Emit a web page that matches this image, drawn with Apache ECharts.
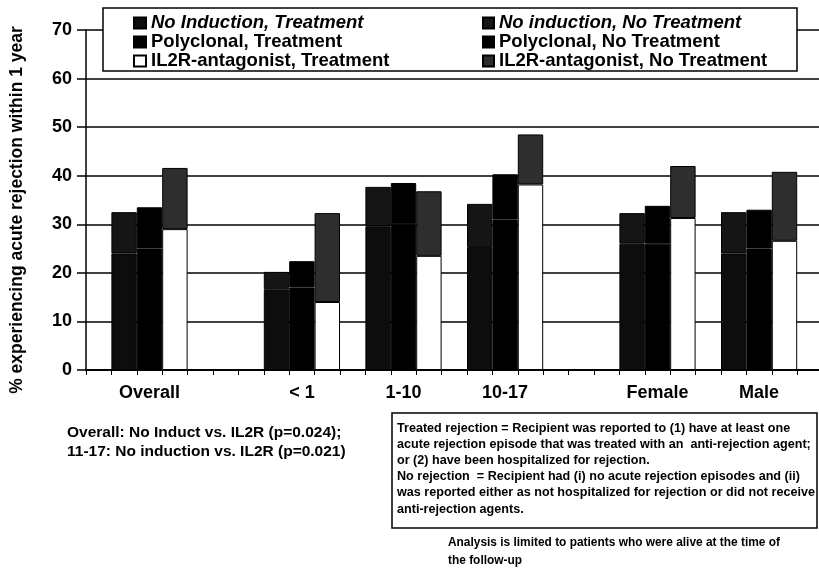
<!DOCTYPE html>
<html>
<head>
<meta charset="utf-8">
<script src="https://cdn.jsdelivr.net/npm/echarts@6/dist/echarts.min.js"></script>
<style>
  html, body { margin: 0; padding: 0; background: #fff; }
  #chart { width: 819px; height: 572px; }
</style>
</head>
<body>
<div id="chart"></div>
<script>
// categories and where each group of 3 bars starts on the slot axis
var categories = ['Overall', '< 1', '1-10', '10-17', 'Female', 'Male'];
var groupStart = [1, 7, 11, 15, 21, 25];
var slotCount = 29;

// % experiencing acute rejection within 1 year
var noIndTreat   = [24.0, 16.6, 29.6, 25.3, 26.0, 24.0];
var noIndNoTreat = [8.5, 3.6, 8.1, 8.9, 6.3, 8.5];
var polyTreat    = [25.0, 17.0, 30.0, 31.0, 26.0, 25.0];
var polyNoTreat  = [8.5, 5.4, 8.5, 9.3, 7.8, 8.0];
var il2rTreat    = [29.0, 14.0, 23.5, 38.2, 31.3, 26.6];
var il2rNoTreat  = [12.6, 18.3, 13.3, 10.3, 10.7, 14.2];

var yTicks = [0, 70, 10]; // min, max, interval

var noteLines = [
  'Treated rejection = Recipient was reported to (1) have at least one',
  'acute rejection episode that was treated with an  anti-rejection agent;',
  'or (2) have been hospitalized for rejection.',
  'No rejection  = Recipient had (i) no acute rejection episodes and (ii)',
  'was reported either as not hospitalized for rejection or did not receive',
  'anti-rejection agents.'
];
var footLines = [
  'Analysis is limited to patients who were alive at the time of',
  'the follow-up'
];

var chart = echarts.init(document.getElementById('chart'));

// x slots: label only under the middle bar of each group
var slotLabels = [];
for (var i = 0; i < slotCount; i++) slotLabels.push('');
groupStart.forEach(function (s, i) { slotLabels[s + 1] = categories[i]; });

function slotData(values, offset) {
  var arr = [];
  for (var i = 0; i < slotCount; i++) arr.push('-');
  groupStart.forEach(function (s, i) { arr[s + offset] = values[i]; });
  return arr;
}

function bar(name, values, offset, color) {
  return {
    name: name,
    type: 'bar',
    stack: 'all',
    barCategoryGap: '0%',
    data: slotData(values, offset),
    itemStyle: { color: color, borderColor: '#000', borderWidth: 1 },
    emphasis: { disabled: true }
  };
}

// the note text is a condensed face; squeeze a normal bold face to the same width
var noteFont = "bold 12.5px 'Liberation Sans', Arial, sans-serif";
var ctx = document.createElement('canvas').getContext('2d');
ctx.font = noteFont;
var noteScale = 418 / ctx.measureText(noteLines[4]).width;
var footScale = 332 / ctx.measureText(footLines[0]).width;

var baseFont = 'Liberation Sans, Arial, sans-serif';
var legendFont = { fontFamily: baseFont, fontWeight: 'bold', fontSize: 18.5, color: '#000', lineHeight: 19 };

var option = {
  animation: false,
  backgroundColor: '#fff',
  grid: { left: 86, top: 30, width: 736.6, height: 340, outerBoundsMode: 'none', containLabel: false },
  legend: [
    {
      orient: 'vertical', left: 133, top: 13.5, padding: 0, itemGap: 0,
      itemWidth: 12, itemHeight: 11, icon: 'rect', selectedMode: false,
      textStyle: legendFont,
      data: [
        { name: 'No Induction, Treatment', textStyle: { fontStyle: 'italic' } },
        'Polyclonal, Treatment',
        'IL2R-antagonist, Treatment'
      ]
    },
    {
      orient: 'vertical', left: 482, top: 13.5, padding: 0, itemGap: 0,
      itemWidth: 11, itemHeight: 11, icon: 'rect', selectedMode: false,
      textStyle: legendFont,
      data: [
        { name: 'No induction, No Treatment', textStyle: { fontStyle: 'italic' } },
        'Polyclonal, No Treatment',
        'IL2R-antagonist, No Treatment'
      ]
    }
  ],
  xAxis: {
    type: 'category',
    data: slotLabels,
    boundaryGap: true,
    axisLine: { lineStyle: { color: '#000', width: 2 } },
    axisTick: { show: true, interval: 0, length: 5, lineStyle: { color: '#000', width: 1 } },
    axisLabel: {
      interval: 0, margin: 14,
      fontFamily: baseFont, fontWeight: 'bold', fontSize: 18, color: '#000'
    },
    splitLine: { show: false }
  },
  yAxis: {
    type: 'value',
    min: yTicks[0], max: yTicks[1], interval: yTicks[2],
    name: '% experiencing acute rejection within 1 year',
    nameLocation: 'middle',
    nameRotate: 90,
    nameGap: 60,
    nameTextStyle: { fontFamily: baseFont, fontWeight: 'bold', fontSize: 17.5, color: '#000', padding: [0, 20, 0, 0] },
    axisLine: { show: true, lineStyle: { color: '#000', width: 1.5 } },
    axisTick: { show: true, length: 9, lineStyle: { color: '#000', width: 1.5 } },
    axisLabel: { margin: 14, fontFamily: baseFont, fontWeight: 'bold', fontSize: 18, color: '#000' },
    splitLine: { show: true, lineStyle: { color: '#000', width: 1.5 } }
  },
  graphic: [
    {
      type: 'rect', z: 3,
      shape: { x: 103, y: 8, width: 694, height: 63 },
      style: { fill: '#fff', stroke: '#000', lineWidth: 1.5 }
    },
    {
      type: 'text', x: 67, y: 423,
      style: {
        text: 'Overall: No Induct vs. IL2R (p=0.024);\n11-17: No induction vs. IL2R (p=0.021)',
        font: "bold 15.5px 'Liberation Sans', Arial, sans-serif", lineHeight: 19, fill: '#000',
        verticalAlign: 'top'
      }
    },
    {
      type: 'rect',
      shape: { x: 392, y: 413, width: 425, height: 115 },
      style: { fill: '#fff', stroke: '#000', lineWidth: 1.5 }
    },
    {
      type: 'text', x: 397, y: 420, scaleX: noteScale,
      style: { text: noteLines.join('\n'), font: noteFont, lineHeight: 16.2, fill: '#000', verticalAlign: 'top' }
    },
    {
      type: 'text', x: 448, y: 534, scaleX: footScale,
      style: { text: footLines.join('\n'), font: noteFont, lineHeight: 18, fill: '#000', verticalAlign: 'top' }
    }
  ],
  series: [
    bar('No Induction, Treatment', noIndTreat, 0, '#0d0d0d'),
    bar('No induction, No Treatment', noIndNoTreat, 0, '#151515'),
    bar('Polyclonal, Treatment', polyTreat, 1, '#000'),
    bar('Polyclonal, No Treatment', polyNoTreat, 1, '#000'),
    bar('IL2R-antagonist, Treatment', il2rTreat, 2, '#fff'),
    bar('IL2R-antagonist, No Treatment', il2rNoTreat, 2, '#2e2e2e')
  ]
};

chart.setOption(option);
</script>
</body>
</html>
